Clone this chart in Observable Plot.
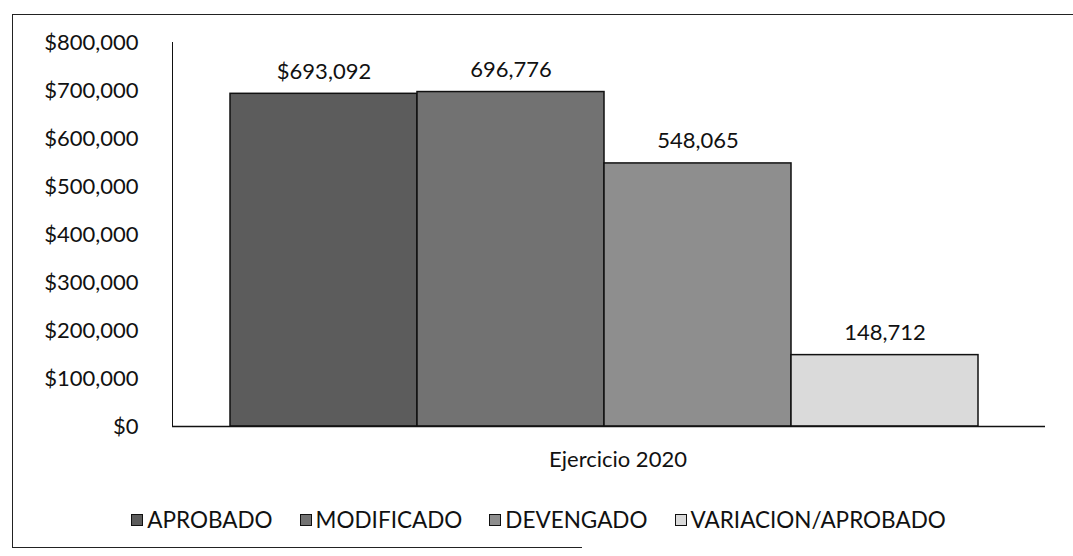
<!DOCTYPE html>
<html>
<head>
<meta charset="utf-8">
<script src="https://cdn.jsdelivr.net/npm/d3@7"></script>
<script src="https://cdn.jsdelivr.net/npm/@observablehq/plot@0.6"></script>
<style>
  html, body { margin: 0; padding: 0; background: #fff; }
  body { width: 1073px; height: 556px; position: relative; overflow: hidden; font-family: Lato, "Open Sans", sans-serif; }
  #frame { position: absolute; left: 12px; top: 14px; width: 1080px; height: 533px; border-top: 1.5px solid #222; border-left: 1.5px solid #222; }
  #bottomline { position: absolute; left: 12px; top: 547px; width: 570px; border-top: 1.5px solid #222; }
  #chart { position: absolute; left: 0; top: 0; }
  #legend { position: absolute; left: 0; top: 506px; width: 1073px; display: flex; justify-content: center; gap: 27px; font-size: 22.5px; color: #111; padding-left: 4px; box-sizing: border-box; }
  .item { display: flex; align-items: center; gap: 4px; }
  .sw { width: 10px; height: 10px; border: 1.2px solid #111; display: inline-block; }
</style>
</head>
<body>
<div id="frame"></div>
<div id="bottomline"></div>
<div id="chart"></div>
<div id="legend"></div>
<script>
const series = ["APROBADO", "MODIFICADO", "DEVENGADO", "VARIACION/APROBADO"];
const values = [693092, 696776, 548065, 148712];
const fills = ["#5c5c5c", "#727272", "#8e8e8e", "#dadada"];
const yTicks = [0, 100000, 200000, 300000, 400000, 500000, 600000, 700000, 800000];
const xLabel = "Ejercicio 2020";

const data = series.map((s, i) => ({series: s, value: values[i]}));
const num = d3.format(",");
const money = d3.format("$,.0f");

const plot = Plot.plot({
  width: 1073,
  height: 490,
  marginTop: 42,
  marginBottom: 64,
  marginLeft: 172,
  marginRight: 28,
  style: {fontFamily: "Lato, 'Open Sans', sans-serif", fontSize: "22px", color: "#111", background: "transparent"},
  x: {type: "band", domain: series, paddingInner: 0, paddingOuter: 0.334, align: 0.46, axis: null},
  y: {domain: [0, 800000], ticks: yTicks, tickFormat: money, tickSize: 0, tickPadding: 34, label: null, line: true},
  color: {domain: series, range: fills},
  marks: [
    Plot.barY(data, {x: "series", y: "value", fill: "series", stroke: "#111", strokeWidth: 1.5}),
    Plot.ruleY([0], {stroke: "#111", strokeWidth: 1.5}),
    Plot.text(data, {x: "series", y: "value", text: (d, i) => i === 0 ? money(d.value) : num(d.value), dy: -22, fill: "#111", fontSize: 22}),
    Plot.text([xLabel], {frameAnchor: "bottom", dy: 40, dx: 9, text: d => d, fill: "#111", fontSize: 22})
  ]
});
document.getElementById("chart").appendChild(plot);

const legend = document.getElementById("legend");
series.forEach((s, i) => {
  const item = document.createElement("div");
  item.className = "item";
  const sw = document.createElement("span");
  sw.className = "sw";
  sw.style.background = fills[i];
  const t = document.createElement("span");
  t.textContent = s;
  item.appendChild(sw);
  item.appendChild(t);
  legend.appendChild(item);
});
</script>
</body>
</html>
